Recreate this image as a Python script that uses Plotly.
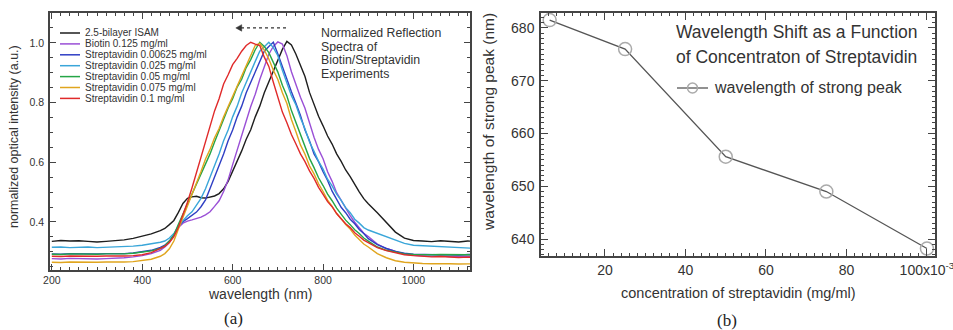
import plotly.graph_objects as go

# ---------------- data: panel (a) spectra ----------------
wavelength = ([200, 220, 240, 260, 280, 300, 320, 340, 360, 380, 400, 420, 440]
              + list(range(450, 901, 10))
              + [920, 940, 960, 980, 1000, 1020, 1040, 1060, 1080, 1100, 1120, 1140])

isam = [.335, .338, .336, .337, .335, .333, .335, .337, .340, .345, .352, .360, .371,
        .378, .391, .405, .432, .462, .479, .484, .486, .481, .480,
        .484, .487, .495, .511, .536, .569, .603, .638, .677, .709,
        .752, .788, .833, .868, .907, .938, .978, 1.005, .993, .962,
        .924, .887, .834, .792, .754, .722, .688, .661, .628, .603,
        .574, .552, .524, .501, .478, .461,
        .431, .398, .366, .346, .338, .336, .334, .337, .335, .333, .336, .335]

biotin = [.277, .276, .278, .277, .275, .276, .277, .278, .280, .283, .287, .294, .305,
          .316, .331, .356, .381, .396, .403, .407, .412, .416, .424,
          .434, .452, .471, .502, .541, .592, .638, .692, .738, .787,
          .828, .877, .918, .962, .988, 1.003, .996, .957, .903, .857,
          .818, .781, .728, .684, .643, .612, .568, .536, .498, .471,
          .444, .421, .399, .381, .362, .351,
          .326, .311, .301, .292, .288, .286, .285, .286, .284, .285, .284, .285]

strep_00625 = [.293, .292, .294, .293, .292, .293, .294, .293, .294, .296, .300, .305, .315,
               .322, .336, .356, .386, .401, .411, .421, .433, .451, .474,
               .512, .549, .591, .628, .672, .708, .752, .788, .833, .868,
               .907, .938, .972, .988, 1.002, .963, .921, .873, .836, .798,
               .757, .708, .672, .628, .602, .568, .539, .503, .476, .449,
               .431, .409, .394, .375, .361, .344,
               .324, .311, .301, .295, .292, .291, .290, .291, .290, .289, .291, .290]

strep_025 = [.315, .316, .314, .315, .316, .314, .315, .316, .317, .319, .322, .326, .332,
             .336, .346, .361, .386, .404, .421, .434, .456, .479, .511,
             .548, .591, .628, .672, .708, .752, .788, .832, .868, .907,
             .938, .972, .988, 1.002, .984, .957, .908, .866, .823, .792,
             .748, .712, .668, .637, .603, .577, .543, .521, .493, .472,
             .448, .431, .409, .396, .381, .373,
             .362, .352, .341, .328, .322, .320, .318, .316, .315, .313, .312, .311]

strep_05 = [.292, .291, .293, .292, .291, .292, .293, .292, .293, .295, .298, .303, .311,
            .320, .336, .356, .392, .426, .458, .490, .525, .558, .590,
            .628, .668, .708, .744, .782, .813, .852, .878, .917, .944,
            .977, 1.002, .988, .967, .933, .902, .858, .822, .773, .732,
            .688, .652, .613, .582, .548, .522, .493, .471, .446, .426,
            .406, .391, .374, .361, .346, .336,
            .316, .305, .298, .293, .291, .290, .290, .291, .290, .289, .290, .290]

strep_075 = [.265, .264, .266, .265, .264, .265, .266, .265, .266, .267, .270, .275, .285,
             .294, .310, .336, .376, .414, .451, .489, .531, .569, .611,
             .643, .682, .713, .752, .786, .818, .857, .888, .926, .958,
             .992, .998, .976, .946, .908, .877, .833, .797, .743, .702,
             .658, .627, .588, .561, .528, .502, .473, .452, .428, .411,
             .391, .376, .356, .341, .326, .316,
             .294, .280, .270, .265, .262, .261, .260, .261, .260, .259, .260, .260]

strep_1 = [.285, .284, .286, .285, .284, .285, .286, .285, .286, .287, .290, .297, .310,
           .318, .331, .351, .382, .421, .466, .514, .566, .618, .676,
           .724, .772, .813, .862, .893, .927, .948, .972, .991, 1.002,
           .996, .991, .952, .921, .868, .817, .768, .732, .693, .661,
           .628, .602, .571, .546, .516, .492, .468, .451, .428, .411,
           .394, .381, .364, .352, .339, .331,
           .314, .304, .296, .290, .287, .285, .283, .284, .282, .281, .282, .280]

series_names = ["2.5-bilayer ISAM", "Biotin 0.125 mg/ml", "Streptavidin 0.00625 mg/ml",
                "Streptavidin 0.025 mg/ml", "Streptavidin 0.05 mg/ml",
                "Streptavidin 0.075 mg/ml", "Streptavidin 0.1 mg/ml"]
series_values = [isam, biotin, strep_00625, strep_025, strep_05, strep_075, strep_1]
series_colors = ["#1e1e1e", "#9a4fd6", "#2f3fc4", "#3aa6d9", "#25a547", "#e0a51e", "#e02a2a"]

# ---------------- data: panel (b) ----------------
concentration = [6.25, 25, 50, 75, 100]
peak_wavelength = [681.5, 676.0, 655.6, 649.0, 638.2]
b_ticks = [20, 40, 60, 80, 100]
b_ticktext = ["20", "40", "60", "80", "100x10<sup>-3</sup>"]

# shift arrow (data coordinates of panel a)
ARROW_FROM = 718
ARROW_TO = 607
ARROW_Y = 1.05

W, H = 953, 330
def px(x): return x / W
def py(y): return 1 - y / H

FONT = "Liberation Sans, Arial, sans-serif"
TXT = "#333333"
AX = "#444444"

fig = go.Figure()
for name, vals, col in zip(series_names, series_values, series_colors):
    assert len(vals) == len(wavelength), name
    fig.add_trace(go.Scatter(x=wavelength, y=vals, mode="lines", name=name,
                             line=dict(color=col, width=1.4), xaxis="x", yaxis="y",
                             showlegend=False))

fig.add_trace(go.Scatter(x=concentration, y=peak_wavelength, mode="lines+markers",
                         name="wavelength of strong peak",
                         line=dict(color="#555555", width=1.3),
                         marker=dict(symbol="circle-open", size=13,
                                     color="#aaaaaa", line=dict(width=1.5, color="#aaaaaa")),
                         xaxis="x2", yaxis="y2", showlegend=False, cliponaxis=False))

common = dict(showline=True, linecolor=AX, linewidth=1.5, mirror="ticks",
              ticks="inside", tickcolor=AX, showgrid=False, zeroline=False,
              ticklabeloverflow="allow")

fig.update_layout(
    width=W, height=H, margin=dict(l=0, r=0, t=0, b=0, autoexpand=False),
    paper_bgcolor="white", plot_bgcolor="white",
    font=dict(family=FONT, color=TXT),
    xaxis=dict(domain=[px(50), px(470)], range=[196, 1125], tickvals=[200, 400, 600, 800, 1000],
               ticklen=6, tickwidth=1.2, tickfont=dict(size=10.5),
               minor=dict(ticks="inside", dtick=20, tick0=0, ticklen=3, tickcolor=AX),
               anchor="y", **common),
    yaxis=dict(domain=[py(270), py(13)], range=[0.239, 1.10], tickvals=[0.4, 0.6, 0.8, 1.0],
               ticktext=["0.4", "0.6", "0.8", "1.0"],
               ticklen=6, tickwidth=1.2, tickfont=dict(size=10.5), ticklabelstandoff=2,
               minor=dict(ticks="inside", dtick=0.05, tick0=0, ticklen=3, tickcolor=AX),
               anchor="x", **common),
    xaxis2=dict(domain=[px(541), px(935)], range=[4.1, 102], tickvals=b_ticks, ticktext=b_ticktext,
                ticklen=7, tickwidth=1.2, tickfont=dict(size=14),
                minor=dict(ticks="inside", dtick=2, tick0=0, ticklen=3, tickcolor=AX),
                anchor="y2", **common),
    yaxis2=dict(domain=[py(256), py(13)], range=[636.78, 682.84], tickvals=[640, 650, 660, 670, 680],
                ticklen=7, tickwidth=1.2, tickfont=dict(size=14), ticklabelstandoff=2,
                minor=dict(ticks="inside", dtick=1, tick0=0, ticklen=3, tickcolor=AX),
                anchor="x2", **common),
)

ann = []
shapes = []

def text(x, y, s, size, xanchor="center", angle=0, family=None, color=TXT):
    f = dict(size=size, color=color)
    if family:
        f["family"] = family
    ann.append(dict(x=px(x), y=py(y), xref="paper", yref="paper", text=s, textangle=angle,
                    xanchor=xanchor, yanchor="middle", showarrow=False, font=f, borderpad=0))

# axis titles
text(14, 137, "normalized optical intensity (a.u.)", 12.5, angle=-90)
text(260, 294, "wavelength (nm)", 14)
text(489, 122, "wavelength of strong peak (nm)", 15.5, angle=-90)
text(738, 293, "concentration of streptavidin (mg/ml)", 14.5)
# captions
SERIF = "Liberation Serif, Times New Roman, serif"
text(233, 318, "(a)", 17, family=SERIF, color="#222")
text(727, 320, "(b)", 17, family=SERIF, color="#222")
# panel a title
for i, line in enumerate(["Normalized Reflection", "Spectra of", "Biotin/Streptavidin", "Experiments"]):
    text(320, 33 + 13.6 * i, line, 12.3, xanchor="left")
# panel b title
for i, line in enumerate(["Wavelength Shift as a Function", "of Concentraton of Streptavidin"]):
    text(675, 32 + 25 * i, line, 17.5, xanchor="left")
# panel a legend
for i, (name, col) in enumerate(zip(series_names, series_colors)):
    yy = 33 + 10.9 * i
    shapes.append(dict(type="line", xref="paper", yref="paper", x0=px(60), x1=px(80), y0=py(yy), y1=py(yy),
                       line=dict(color=col, width=1.5)))
    text(84, yy, name, 10, xanchor="left")
# panel b legend
shapes.append(dict(type="line", xref="paper", yref="paper", x0=px(677), x1=px(708), y0=py(88), y1=py(88),
                   line=dict(color="#555555", width=1.3)))
shapes.append(dict(type="circle", xref="paper", yref="paper", x0=px(687.5), x1=px(697.5), y0=py(93), y1=py(83),
                   line=dict(color="#aaaaaa", width=1.5)))
text(713, 88, "wavelength of strong peak", 16, xanchor="left")
# shift arrow: dashed shaft + solid head
shapes.append(dict(type="line", xref="x", yref="y", x0=ARROW_FROM, x1=ARROW_TO + 8, y0=ARROW_Y, y1=ARROW_Y,
                   line=dict(color="#333", width=1.2, dash="3px,3px")))
shapes.append(dict(type="path", xref="x", yref="y",
                   path=f"M {ARROW_TO},{ARROW_Y} L {ARROW_TO + 13},{ARROW_Y + 0.011} "
                        f"L {ARROW_TO + 13},{ARROW_Y - 0.011} Z",
                   fillcolor="#333", line=dict(color="#333", width=0.5)))

fig.update_layout(annotations=ann, shapes=shapes)
fig.write_html("out.html")
